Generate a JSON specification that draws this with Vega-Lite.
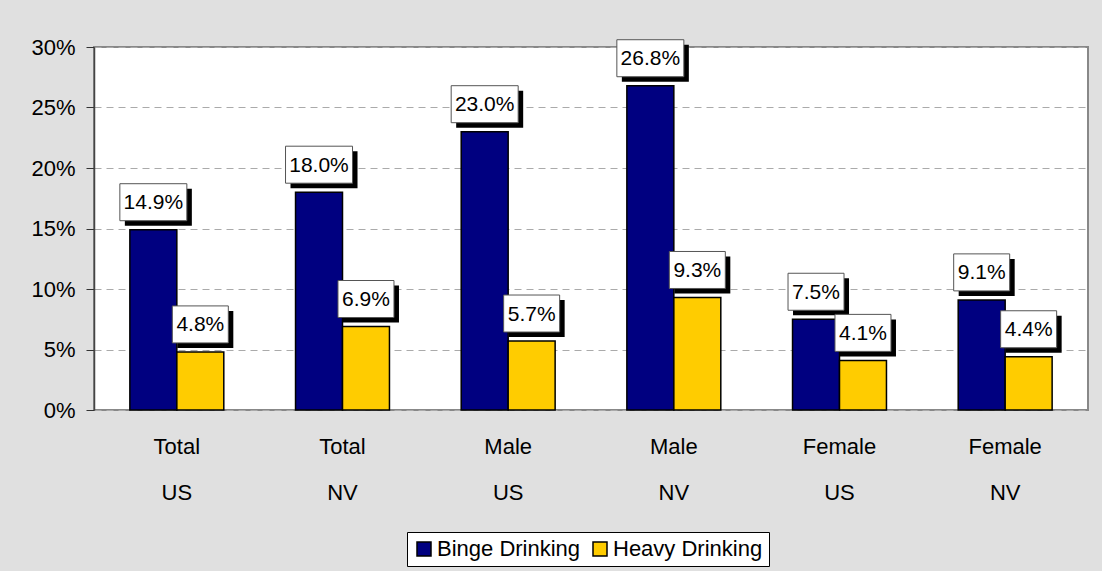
{
  "$schema": "https://vega.github.io/schema/vega-lite/v6.json",
  "width": 994,
  "height": 363,
  "autosize": "none",
  "padding": {"left": 94, "top": 47, "right": 14, "bottom": 161},
  "background": "#e0e0e0",
  "config": {
    "font": "Liberation Sans",
    "view": {"fill": "white", "stroke": "#888888", "strokeWidth": 2}
  },
  "data": {
    "values": [
      {"group": "Total|US", "series": "Binge Drinking", "value": 0.149},
      {"group": "Total|US", "series": "Heavy Drinking", "value": 0.048},
      {"group": "Total|NV", "series": "Binge Drinking", "value": 0.180},
      {"group": "Total|NV", "series": "Heavy Drinking", "value": 0.069},
      {"group": "Male|US", "series": "Binge Drinking", "value": 0.230},
      {"group": "Male|US", "series": "Heavy Drinking", "value": 0.057},
      {"group": "Male|NV", "series": "Binge Drinking", "value": 0.268},
      {"group": "Male|NV", "series": "Heavy Drinking", "value": 0.093},
      {"group": "Female|US", "series": "Binge Drinking", "value": 0.075},
      {"group": "Female|US", "series": "Heavy Drinking", "value": 0.041},
      {"group": "Female|NV", "series": "Binge Drinking", "value": 0.091},
      {"group": "Female|NV", "series": "Heavy Drinking", "value": 0.044}
    ]
  },
  "encoding": {
    "x": {
      "field": "group",
      "type": "nominal",
      "sort": null,
      "scale": {"paddingInner": 0.433, "paddingOuter": 0.2165},
      "axis": {
        "title": null,
        "labelExpr": "split(datum.value, '|')",
        "labelFontSize": 22,
        "labelColor": "black",
        "labelBaseline": "alphabetic",
        "labelPadding": 43,
        "labelLineHeight": 46,
        "labelAngle": 0,
        "ticks": false,
        "domain": false
      }
    },
    "xOffset": {
      "field": "series",
      "type": "nominal",
      "sort": null,
      "scale": {"paddingInner": 0, "paddingOuter": 0}
    },
    "y": {
      "field": "value",
      "type": "quantitative",
      "scale": {"domain": [0, 0.3], "nice": false},
      "axis": {
        "title": null,
        "format": ".0%",
        "values": [0, 0.05, 0.1, 0.15, 0.2, 0.25, 0.3],
        "labelFontSize": 22,
        "labelColor": "black",
        "tickSize": 8,
        "tickColor": "#333333",
        "labelPadding": 11,
        "domainColor": "#444444",
        "domainWidth": 1.5,
        "grid": true,
        "gridDash": [7, 5],
        "gridColor": "#aaaaaa",
        "gridWidth": 1
      }
    }
  },
  "layer": [
    {
      "mark": {"type": "bar", "stroke": "black", "strokeWidth": 1.5},
      "encoding": {
        "color": {
          "field": "series",
          "type": "nominal",
          "sort": null,
          "scale": {"domain": ["Binge Drinking", "Heavy Drinking"], "range": ["#000080", "#FFCC00"]},
          "legend": {
            "title": null,
            "orient": "none",
            "direction": "horizontal",
            "columns": 2,
            "legendX": 313,
            "legendY": 485,
            "fillColor": "white",
            "strokeColor": "black",
            "padding": 6,
            "symbolType": "square",
            "symbolSize": 196,
            "symbolStrokeColor": "black",
            "symbolStrokeWidth": 1.5,
            "symbolOpacity": 1,
            "labelFontSize": 22,
            "labelColor": "black",
            "labelOffset": 2,
            "columnPadding": 8,
            "labelLimit": 300
          }
        }
      }
    },
    {
      "mark": {"type": "point", "filled": true, "fill": "black", "strokeWidth": 0, "opacity": 1, "size": 4, "yOffset": -27.5},
      "encoding": {
        "shape": {
          "condition": {"test": "datum.value >= 0.1", "value": "M-28.5,-13.5L38.5,-13.5L38.5,23.5L-28.5,23.5Z"},
          "value": "M-23,-13.5L33,-13.5L33,23.5L-23,23.5Z"
        }
      }
    },
    {
      "mark": {"type": "point", "filled": true, "fill": "white", "stroke": "#555555", "strokeWidth": 1, "opacity": 1, "size": 4, "yOffset": -27.5},
      "encoding": {
        "shape": {
          "condition": {"test": "datum.value >= 0.1", "value": "M-33.5,-18.5L33.5,-18.5L33.5,18.5L-33.5,18.5Z"},
          "value": "M-28,-18.5L28,-18.5L28,18.5L-28,18.5Z"
        }
      }
    },
    {
      "mark": {"type": "text", "fontSize": 21, "color": "black", "baseline": "middle", "yOffset": -27.5, "dy": 1},
      "encoding": {
        "text": {"field": "value", "type": "quantitative", "format": ".1%"}
      }
    }
  ]
}
